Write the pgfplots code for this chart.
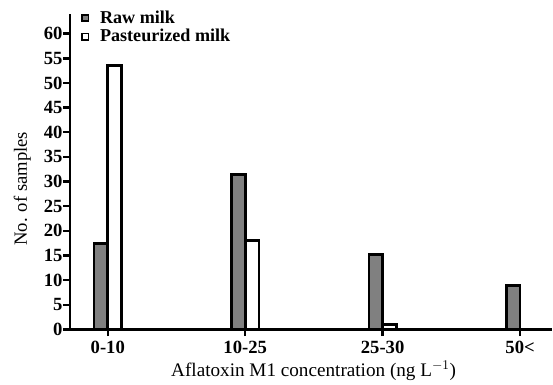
\documentclass[border=0pt]{standalone}
\usepackage{pgfplots}
\pgfplotsset{compat=1.18}
\usepackage{fontspec}
\setmainfont{Liberation Serif}
\begin{document}
\begin{tikzpicture}[x=1pt,y=1pt]
\begin{axis}[
  scale only axis,
  width=362pt, height=237pt,
  xmin=-0.276, xmax=3.23,
  ymin=0, ymax=64,
  axis lines=left,
  axis line style={-, line width=2pt},
  xtick={0,1,2,3},
  xticklabels={0-10,10-25,25-30,50<},
  ytick={0,5,...,60},
  tick style={line width=1.8pt, black},
  tick align=outside,
  major tick length=5pt,
  ticklabel style={font=\bfseries\fontsize{14}{14}\selectfont},
  yticklabel style={inner xsep=0.3pt},
  xticklabel style={yshift=-0.5pt},
  /pgf/number format/assume math mode=true,
  xlabel={Aflatoxin M1 concentration (ng L$^{-1}$)},
  ylabel={No. of samples},
  xlabel style={font=\fontsize{14.4}{14.4}\selectfont, at={(axis description cs:0.506,-0.148)}, anchor=base},
  ylabel style={font=\fontsize{14}{14}\selectfont, at={(axis description cs:-0.099,0.446)}, anchor=center},
  ybar,
  bar width=0.1,
  legend style={at={(axis description cs:0.022,1.02)}, anchor=north west, draw=none, fill=none,
    font=\bfseries\fontsize{13.6}{13.6}\selectfont, row sep=-0.8pt, inner sep=0pt,
    legend cell align=left},
  legend image code/.code={\path (0pt,0pt) (10.5pt,0pt); \draw[#1, line width=1.4pt] (0pt,-2.4pt) rectangle (4.8pt,2.4pt);},
]
\addplot[bar shift=-0.05, fill=black!50, draw=black, line width=2pt] coordinates {(0,17.4) (1,31.4) (2,15.2) (3,8.9)};
\addplot[bar shift=0.05, fill=white, draw=black, line width=2pt] coordinates {(0,53.6) (1,18.1) (2,1.0)};
\legend{Raw milk, Pasteurized milk}
\end{axis}
\path ([xshift=-52.5pt,yshift=-41.25pt]current axis.south west) ([yshift=10.5pt]current axis.north east);
\end{tikzpicture}
\end{document}
